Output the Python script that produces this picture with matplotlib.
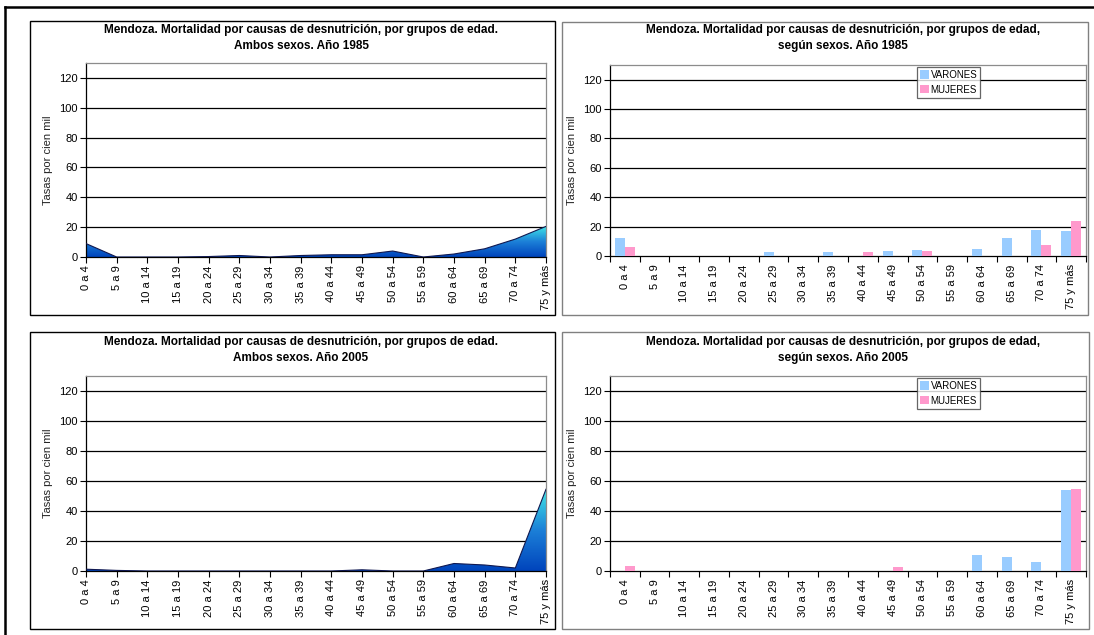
import numpy as np
import matplotlib
matplotlib.use("Agg")
import matplotlib.pyplot as plt
from matplotlib.colors import LinearSegmentedColormap
from matplotlib.patches import Rectangle
from matplotlib.lines import Line2D

plt.rcParams['font.family'] = ['Liberation Sans', 'DejaVu Sans']

categories = ["0 a 4", "5 a 9", "10 a 14", "15 a 19", "20 a 24", "25 a 29", "30 a 34",
              "35 a 39", "40 a 44", "45 a 49", "50 a 54", "55 a 59", "60 a 64",
              "65 a 69", "70 a 74", "75 y más"]

ambos_1985 = [9, 0, 0, 0, 0.3, 1, 0, 1, 1.5, 1.5, 4, 0, 2, 5.5, 12, 20.5]
ambos_2005 = [1.2, 0.4, 0, 0, 0, 0, 0, 0, 0, 0.8, 0, 0, 5, 4, 2, 54.5]

varones_1985 = [12, 0, 0, 0, 0, 2.5, 0, 3, 0, 3.5, 4, 0, 5, 12, 18, 17]
mujeres_1985 = [6, 0, 0, 0, 0, 0, 0, 0, 3, 0, 3.5, 0, 0, 0, 7.5, 23.5]
varones_2005 = [0, 0, 0, 0, 0, 0, 0, 0, 0, 0, 0, 0, 11, 9.5, 6, 54]
mujeres_2005 = [3.5, 0, 0, 0, 0, 0, 0, 0, 0, 2.5, 0, 0, 0, 0, 0, 55]

yticks = [0, 20, 40, 60, 80, 100, 120]

title_area = ["Mendoza. Mortalidad por causas de desnutrición, por grupos de edad.\nAmbos sexos. Año 1985",
              "Mendoza. Mortalidad por causas de desnutrición, por grupos de edad.\nAmbos sexos. Año 2005"]
title_bar = ["Mendoza. Mortalidad por causas de desnutrición, por grupos de edad,\nsegún sexos. Año 1985",
             "Mendoza. Mortalidad por causas de desnutrición, por grupos de edad,\nsegún sexos. Año 2005"]

W, H = 1094, 635
fig = plt.figure(figsize=(W / 100, H / 100), dpi=100)


def fx(x):
    return x / W


def fy(y):
    return 1 - y / H


def add_axes_px(l, t, r, b):
    return fig.add_axes([fx(l), fy(b), fx(r) - fx(l), (b - t) / H])


# outer frame lines
fig.add_artist(Line2D([fx(5), fx(1094)], [fy(7), fy(7)], color='black', lw=1.8))
fig.add_artist(Line2D([fx(5), fx(5)], [fy(7), fy(635)], color='black', lw=1.8))

# panels
panels = [(30, 21, 555, 315, 'black'), (562, 22, 1088, 315, '#808080'),
          (30, 332, 555, 629, 'black'), (562, 332, 1089, 629, '#808080')]
for l, t, r, b, c in panels:
    fig.add_artist(Rectangle((fx(l), fy(b)), fx(r) - fx(l), (b - t) / H,
                             transform=fig.transFigure, facecolor='white',
                             edgecolor=c, lw=1.0, zorder=0))

cmap = LinearSegmentedColormap.from_list('grad', ['#0044BC', '#1C80D8', '#40E6E6'])

tick_fs = 8
lab_fs = 8
title_fs = 8.5


def style_axes(ax):
    ax.set_ylim(0, 130)
    ax.set_yticks(yticks)
    ax.tick_params(axis='y', direction='out', length=4, width=0.8, labelsize=tick_fs,
                   colors='black', pad=2)
    for s in ['top', 'right']:
        ax.spines[s].set_color('#8c8c8c')
        ax.spines[s].set_linewidth(0.9)
    for s in ['left', 'bottom']:
        ax.spines[s].set_color('black')
        ax.spines[s].set_linewidth(0.9)
    for v in yticks[1:]:
        ax.axhline(v, color='black', lw=0.9, zorder=1)
    ax.set_ylabel("Tasas por cien mil", fontsize=lab_fs, labelpad=4, color='#222222')


def area_chart(ax, vals):
    n = len(categories)
    x = np.arange(n)
    v = np.array(vals, dtype=float)
    style_axes(ax)
    poly = ax.fill_between(x, 0, v, facecolor='none', edgecolor='none', zorder=2)
    vmax = v.max()
    grad = np.linspace(0, 1, 256).reshape(-1, 1)
    im = ax.imshow(grad, cmap=cmap, origin='lower', aspect='auto',
                   extent=[0, n - 1, 0, vmax], zorder=2)
    im.set_clip_path(poly.get_paths()[0], transform=ax.transData)
    ax.plot(x, v, color='#101850', lw=0.8, zorder=3)
    ax.set_ylim(0, 130)
    ax.set_xlim(0, n - 1)
    ax.set_xticks(x)
    ax.set_xticklabels(categories, rotation=90, fontsize=tick_fs)
    ax.tick_params(axis='x', direction='out', length=4, width=0.8, pad=2)


def bar_chart(ax, vv, mm):
    n = len(categories)
    x = np.arange(n)
    w = 0.34
    style_axes(ax)
    ax.bar(x - w / 2, vv, width=w, color='#99CCFF', zorder=3, label='VARONES')
    ax.bar(x + w / 2, mm, width=w, color='#FF99CC', zorder=3, label='MUJERES')
    ax.set_xlim(-0.5, n - 0.5)
    ax.set_ylim(0, 130)
    ax.set_xticks(x)
    ax.set_xticklabels(categories, rotation=90, fontsize=tick_fs)
    ax.set_xticks(np.arange(-0.5, n), minor=True)
    ax.tick_params(axis='x', which='major', length=0, pad=6)
    ax.tick_params(axis='x', which='minor', direction='out', length=4, width=0.8)
    leg = ax.legend(loc='upper left', bbox_to_anchor=(0.645, 0.99), fontsize=7,
                    frameon=True, fancybox=False, edgecolor='#404040',
                    handlelength=0.9, handleheight=0.9, handletextpad=0.2,
                    borderpad=0.3, labelspacing=0.5, borderaxespad=0)
    leg.get_frame().set_linewidth(0.9)


ax1 = add_axes_px(86, 63, 546, 257)
area_chart(ax1, ambos_1985)
ax2 = add_axes_px(610, 65, 1086, 256)
bar_chart(ax2, varones_1985, mujeres_1985)
ax3 = add_axes_px(86, 376, 546, 571)
area_chart(ax3, ambos_2005)
ax4 = add_axes_px(610, 376, 1086, 571)
bar_chart(ax4, varones_2005, mujeres_2005)

for (xc, yc, txt) in [(301, 38, title_area[0]), (843, 38, title_bar[0]),
                      (301, 350, title_area[1]), (843, 350, title_bar[1])]:
    fig.text(fx(xc), fy(yc), txt, ha='center', va='center', fontsize=title_fs,
             fontweight='bold', linespacing=1.55)

fig.savefig("out.png", dpi=100)
